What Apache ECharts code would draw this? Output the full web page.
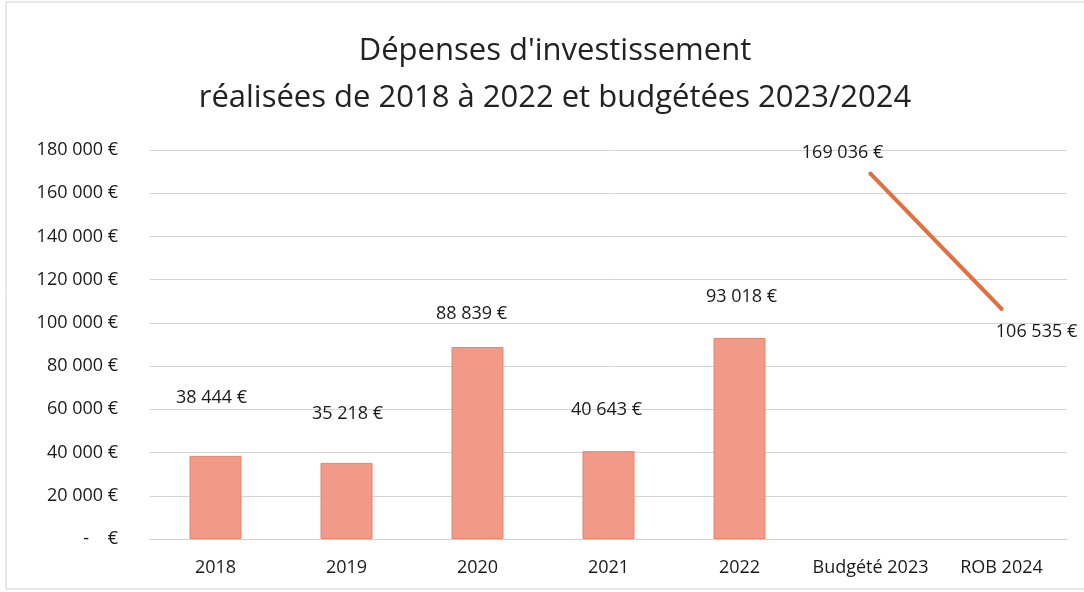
<!DOCTYPE html>
<html>
<head>
<meta charset="utf-8">
<script src="https://cdn.jsdelivr.net/npm/echarts@6/dist/echarts.min.js"></script>
<style>
html,body{margin:0;padding:0;background:#fff;}
#container{width:1084px;height:592px;}
</style>
</head>
<body>
<div id="container"></div>
<script>
var categories = ['2018', '2019', '2020', '2021', '2022', 'Budgété 2023', 'ROB 2024'];
var realise = [38444, 35218, 88839, 40643, 93018, null, null];
var budget = [null, null, null, null, null, 169036, 106535];
var yTicks = [0, 20000, 40000, 60000, 80000, 100000, 120000, 140000, 160000, 180000];

// decalage des etiquettes (place a la main dans l'original)
var barLabelOffsets = [[-4, -44], [1, -35], [-6, -19], [-2, -27], [2, -27]];
var lineLabelOffsets = [null, null, null, null, null, [-28, -5], [35, 7]];

function fmt(v) {
    if (v === 0) return '-    €';
    return String(v).replace(/\B(?=(\d{3})+(?!\d))/g, ' ') + ' €';
}

var txt = {color: '#1a1a1a', fontFamily: 'Open Sans', fontSize: 18};

var barData = realise.map(function(v, i) {
    if (v === null) return null;
    return {value: v, label: {offset: barLabelOffsets[i]}};
});
var lineData = budget.map(function(v, i) {
    if (v === null) return null;
    return {value: v, label: {offset: lineLabelOffsets[i], position: i == 5 ? 'top' : 'bottom'}};
});

var dom = document.getElementById('container');
var myChart = echarts.init(dom, null, {renderer: 'canvas'});
var option = {
    backgroundColor: '#fff',
    animation: false,
    title: {
        text: "Dépenses d'investissement\nréalisées de 2018 à 2022 et budgétées 2023/2024",
        left: 550,
        textAlign: 'center',
        top: 23,
        textStyle: {color: '#222', fontFamily: 'Open Sans', fontWeight: 'normal', fontSize: 31, lineHeight: 47}
    },
    graphic: [{
        type: 'rect',
        shape: {x: 6, y: 2, width: 1090, height: 587},
        style: {fill: 'none', stroke: '#cfcfcf', lineWidth: 1}
    }],
    grid: {left: 150, right: 17, top: 150, bottom: 53, containLabel: false},
    xAxis: {
        type: 'category',
        data: categories,
        axisLine: {lineStyle: {color: '#cfcfcf'}},
        axisTick: {show: false},
        axisLabel: Object.assign({margin: 20, interval: 0}, txt)
    },
    yAxis: {
        type: 'value',
        min: yTicks[0],
        max: yTicks[yTicks.length - 1],
        interval: 20000,
        axisLine: {show: false},
        axisTick: {show: false},
        splitLine: {lineStyle: {color: '#d4d4d4'}},
        axisLabel: Object.assign({margin: 32, formatter: fmt}, txt)
    },
    series: [
        {
            name: 'Réalisé',
            type: 'bar',
            data: barData,
            barWidth: 52,
            itemStyle: {color: '#f29a88', borderColor: '#e7826e', borderWidth: 1},
            label: Object.assign({show: true, position: 'top', formatter: function(p){ return fmt(p.value); }}, txt)
        },
        {
            name: 'Budgété',
            type: 'line',
            data: lineData,
            connectNulls: false,
            symbol: 'circle',
            symbolSize: 4,
            itemStyle: {color: '#e0703f'},
            lineStyle: {color: '#e0703f', width: 4, cap: 'round'},
            label: Object.assign({show: true, formatter: function(p){ return fmt(p.value); }}, txt)
        }
    ]
};
myChart.setOption(option, true);
</script>
</body>
</html>
